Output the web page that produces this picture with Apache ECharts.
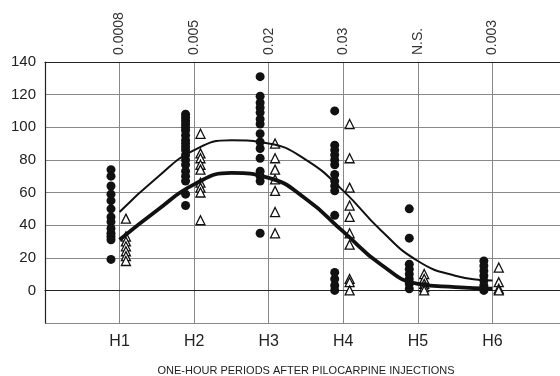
<!DOCTYPE html>
<html>
<head>
<meta charset="utf-8">
<script src="https://cdn.jsdelivr.net/npm/echarts@6/dist/echarts.min.js"></script>
<style>
  html, body { margin: 0; padding: 0; background: #fff; }
  #chart { width: 560px; height: 376px; }
</style>
</head>
<body>
<div id="chart"></div>
<script>
// hour categories and p-values printed above each column
const hours = ['H1', 'H2', 'H3', 'H4', 'H5', 'H6'];
const pValues = ['0.0008', '0.005', '0.02', '0.03', 'N.S.', '0.003'];

// filled circles (one list per hour)
const dotValues = [
  [74, 70, 64, 59, 55, 50, 45, 42, 38, 35, 33, 31, 19],
  [108, 106, 104, 102, 100, 98, 95, 92, 90, 88, 86, 83, 80, 77, 73, 70, 67, 59, 52],
  [131, 119, 115, 112, 109, 105, 102, 96, 91, 87, 81, 73, 70, 67, 35],
  [110, 89, 86, 83, 80, 77, 71, 67, 64, 61, 46, 11, 7, 3, 0],
  [50, 32, 16, 13, 10, 7, 4, 1],
  [18, 15, 12, 9, 6, 3, 0]
];

// open triangles (one list per hour)
const triangleValues = [
  [44, 33, 30, 27, 24, 21, 18],
  [96, 84, 81, 77, 74, 66, 63, 60, 43],
  [90, 81, 74, 68, 61, 48, 35],
  [102, 81, 63, 52, 45, 35, 28, 7, 5, 0],
  [10, 7, 4, 2, 0],
  [14, 5, 1, 0]
];

const curveX = [1, 1.5, 2, 2.5, 3, 3.5, 4, 4.5, 5, 5.5, 6];
const thinCurve = [48, 69, 86, 92, 90, 80, 61, 37, 18, 9, 6];
const thickCurve = [31, 49, 65, 72, 69, 56, 36, 16, 4, 2, 1];

const chart = echarts.init(document.getElementById('chart'));

const font = '"Liberation Sans", Arial, sans-serif';
const dotShift = -0.115;
const triShift = 0.085;

const toPoints = (lists, shift) =>
  lists.flatMap((vals, i) => vals.map(v => [i + 1 + shift, v]));

const option = {
  animation: false,
  backgroundColor: '#fff',
  textStyle: { fontFamily: font },
  grid: { left: 45, right: -7, top: 62, bottom: 53, outerBoundsMode: 'none', containLabel: false },
  xAxis: [
    {
      type: 'value',
      min: 0,
      max: 7,
      interval: 1,
      name: 'ONE-HOUR PERIODS AFTER PILOCARPINE INJECTIONS',
      nameLocation: 'middle',
      nameGap: 42,
      nameTextStyle: { color: '#222', fontSize: 11, fontFamily: font },
      axisLine: { lineStyle: { color: '#222', width: 1.2 } },
      axisTick: { show: false },
      axisLabel: {
        color: '#222',
        fontSize: 16,
        margin: 11,
        formatter: v => hours[v - 1] || ''
      },
      splitLine: { show: true, lineStyle: { color: '#888', width: 1 } }
    },
    {
      type: 'value',
      position: 'top',
      min: 0,
      max: 7,
      interval: 1,
      axisLine: { show: true, lineStyle: { color: '#222', width: 1.2 } },
      axisTick: { show: false },
      axisLabel: {
        color: '#333',
        fontSize: 14,
        rotate: -90,
        margin: 7,
        formatter: v => pValues[v - 1] || ''
      },
      splitLine: { show: false }
    }
  ],
  yAxis: {
    type: 'value',
    min: -20,
    max: 140,
    interval: 20,
    axisLine: { show: true, lineStyle: { color: '#222', width: 1.2 } },
    axisTick: { show: false },
    axisLabel: {
      color: '#222',
      fontSize: 15,
      margin: 9,
      formatter: v => (v < 0 ? '' : v)
    },
    splitLine: { show: true, lineStyle: { color: '#888', width: 1 } }
  },
  series: [
    {
      type: 'scatter',
      data: toPoints(dotValues, dotShift),
      symbol: 'circle',
      symbolSize: 9,
      itemStyle: { color: '#111', opacity: 1 },
      z: 3
    },
    {
      type: 'scatter',
      data: toPoints(triangleValues, triShift),
      symbol: 'triangle',
      symbolSize: 9,
      itemStyle: { color: '#fff', borderColor: '#111', borderWidth: 1.3, opacity: 1 },
      z: 3
    },
    {
      type: 'line',
      data: curveX.map((x, i) => [x, thinCurve[i]]),
      smooth: 0.5,
      showSymbol: false,
      lineStyle: { color: '#111', width: 2 },
      z: 4
    },
    {
      type: 'line',
      data: curveX.map((x, i) => [x, thickCurve[i]]),
      smooth: 0.5,
      showSymbol: false,
      lineStyle: { color: '#111', width: 3.8 },
      z: 4
    }
  ]
};

chart.setOption(option);
</script>
</body>
</html>
